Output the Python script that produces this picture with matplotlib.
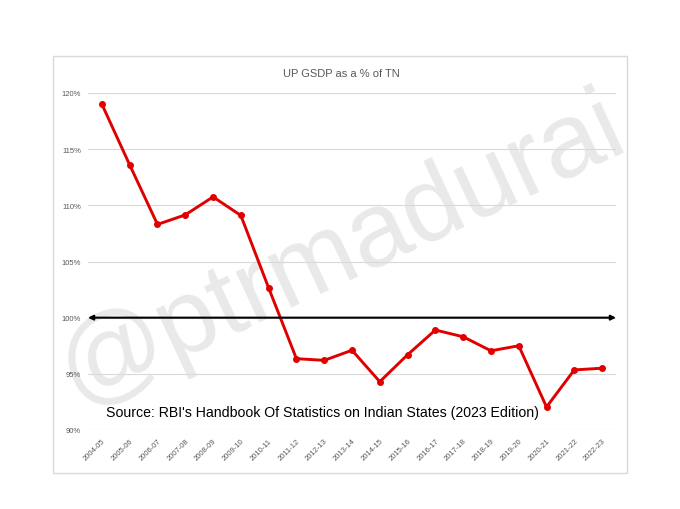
import matplotlib.pyplot as plt
import matplotlib.patches as patches

years = ['2004-05', '2005-06', '2006-07', '2007-08', '2008-09', '2009-10', '2010-11',
         '2011-12', '2012-13', '2013-14', '2014-15', '2015-16', '2016-17', '2017-18',
         '2018-19', '2019-20', '2020-21', '2021-22', '2022-23']
up_vs_tn = [119.0, 113.6, 108.3, 109.15, 110.75, 109.1, 102.65, 96.35, 96.2, 97.1,
            94.3, 96.7, 98.9, 98.3, 97.05, 97.5, 92.05, 95.35, 95.5]
yticks = [90, 95, 100, 105, 110, 115, 120]
parity = 100

plt.rcParams['font.family'] = ['Liberation Sans', 'DejaVu Sans']

fig = plt.figure(figsize=(6.8, 5.1), dpi=100)
fig.patch.set_facecolor('white')

# chart frame like the excel chart box
fig.patches.append(patches.Rectangle((53/680, 1-474/510), (627-53)/680, (474-57)/510,
                                     transform=fig.transFigure, fill=False,
                                     edgecolor='#d9d9d9', lw=1.0, zorder=-2))

ax = fig.add_axes([88/680, 1-431/510, (616-88)/680, (431-94)/510])
ax.patch.set_alpha(0)
x = range(len(years))
ax.set_xlim(-0.5, len(years)-0.5)
ax.set_ylim(90, 120)
ax.set_yticks(yticks)
ax.set_yticklabels([f'{v}%' for v in yticks], fontsize=5.5, color='#595959')
ax.set_xticks(list(x))
ax.set_xticklabels(years, rotation=45, ha='right', rotation_mode='anchor',
                   fontsize=5.5, color='#595959')
ax.tick_params(length=0, pad=5)
ax.grid(axis='y', color='#d9d9d9', lw=0.8)
ax.set_axisbelow(True)
for s in ax.spines.values():
    s.set_visible(False)

ax.plot(x, up_vs_tn, color='#e00000', lw=2.1, marker='o', markersize=4, zorder=4)

ax.annotate('', xy=(len(years)-0.5, parity), xytext=(-0.5, parity),
            arrowprops=dict(arrowstyle='<|-|>', color='black', lw=1.5,
                            mutation_scale=7, shrinkA=0, shrinkB=0), zorder=5)

fig.text(341/680, 1-74/510, 'UP GSDP as a % of TN', ha='center', va='center',
         fontsize=8, color='#595959')
ax.text(322/680, 1-413/510, "Source: RBI's Handbook Of Statistics on Indian States (2023 Edition)",
        transform=fig.transFigure, ha='center', va='center', fontsize=10.2,
        color='black', zorder=6)

# watermark, behind the chart contents
fig.text(342/680, 1-250/510, '@ptrmadurai', ha='center', va='center', rotation=25,
         fontsize=76, color='#d4d4d4', alpha=0.5, zorder=-1)

fig.savefig('out.png', dpi=100)
